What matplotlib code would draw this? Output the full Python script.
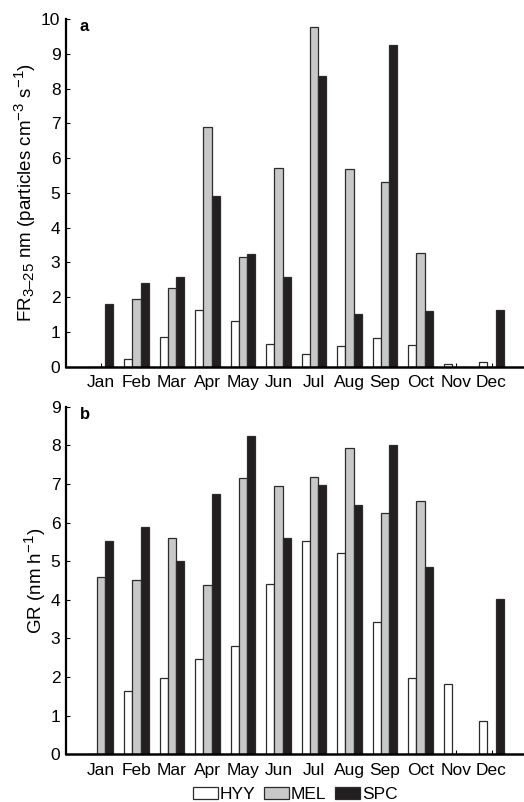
import matplotlib
matplotlib.use("Agg")
import matplotlib.pyplot as plt
import numpy as np

plt.rcParams['font.family'] = ['Liberation Sans', 'DejaVu Sans']
plt.rcParams['font.size'] = 12.5
plt.rcParams['mathtext.fontset'] = 'custom'
plt.rcParams['mathtext.rm'] = 'Liberation Sans'
plt.rcParams['mathtext.it'] = 'Liberation Sans'
# sub/superscripts in the original are larger than matplotlib's default
try:
    import matplotlib._mathtext as _mt
    _mt.SHRINK_FACTOR = 0.8
except Exception:
    pass

months = ['Jan', 'Feb', 'Mar', 'Apr', 'May', 'Jun', 'Jul', 'Aug', 'Sep', 'Oct', 'Nov', 'Dec']
series = ['HYY', 'MEL', 'SPC']

# panel a: formation rate FR 3-25 nm
fr_hyy = [0.0, 0.21, 0.86, 1.64, 1.30, 0.66, 0.37, 0.60, 0.83, 0.61, 0.09, 0.13]
fr_mel = [0.0, 1.94, 2.26, 6.88, 3.15, 5.71, 9.78, 5.70, 5.30, 3.27, 0.0, 0.0]
fr_spc = [1.79, 2.40, 2.59, 4.92, 3.23, 2.58, 8.35, 1.52, 9.25, 1.61, 0.0, 1.64]

# panel b: growth rate GR
gr_hyy = [0.0, 1.63, 1.98, 2.48, 2.80, 4.40, 5.51, 5.22, 3.43, 1.97, 1.82, 0.86]
gr_mel = [4.60, 4.50, 5.60, 4.38, 7.16, 6.94, 7.19, 7.93, 6.25, 6.57, 0.0, 0.0]
gr_spc = [5.52, 5.88, 5.01, 6.73, 8.25, 5.59, 6.97, 6.45, 8.02, 4.84, 0.0, 4.01]

colors = ['white', '#c8c8c8', '#231f20']
edge = '#2b2b2b'
w = 0.233
x = np.arange(len(months))

fig = plt.figure(figsize=(5.24, 8.02), dpi=100)
ax1 = fig.add_axes([0.126, 0.5428, 0.874, 0.4335])
ax2 = fig.add_axes([0.126, 0.0595, 0.874, 0.4334])


def draw(ax, data, ymax, ylabel, tag):
    bars = []
    for i, (vals, c) in enumerate(zip(data, colors)):
        b = ax.bar(x + (i - 1) * w, vals, w, color=c, edgecolor=edge,
                   linewidth=0.9, label=series[i], zorder=2)
        bars.append(b)
    ax.set_xlim(-0.986, 11.915)
    ax.set_ylim(0, ymax)
    ax.set_yticks(range(0, ymax + 1))
    ax.set_xticks(x)
    ax.set_xticklabels(months)
    ax.spines['top'].set_visible(False)
    ax.spines['right'].set_visible(False)
    ax.spines['bottom'].set_linewidth(1.8)
    ax.spines['left'].set_linewidth(1.6)
    ax.spines['bottom'].set_zorder(3)
    ax.tick_params(axis='x', direction='in', length=3, width=0.8, pad=6)
    ax.tick_params(axis='y', direction='in', length=3, width=0.8, pad=4)
    ax.set_ylabel(ylabel, labelpad=2, fontsize=13.5)
    ax.text(0.03, 0.978, tag, transform=ax.transAxes, fontweight='bold',
            ha='left', va='center', fontsize=12)
    return bars


draw(ax1, [fr_hyy, fr_mel, fr_spc], 10,
     'FR$_{3\u201325}$ nm (particles cm$^{-3}$ s$^{-1}$)', 'a')
bars = draw(ax2, [gr_hyy, gr_mel, gr_spc], 9, 'GR (nm h$^{-1}$)', 'b')

for ax in (ax1, ax2):
    for t in ax.xaxis.get_major_ticks():
        t.tick1line.set_zorder(5)

fig.legend(handles=bars, labels=series, loc='center', ncol=3,
           bbox_to_anchor=(0.563, 0.009), frameon=False,
           handlelength=1.45, handleheight=0.65, handletextpad=0.1,
           columnspacing=0.5, borderpad=0)

fig.savefig('out.png', dpi=100)
